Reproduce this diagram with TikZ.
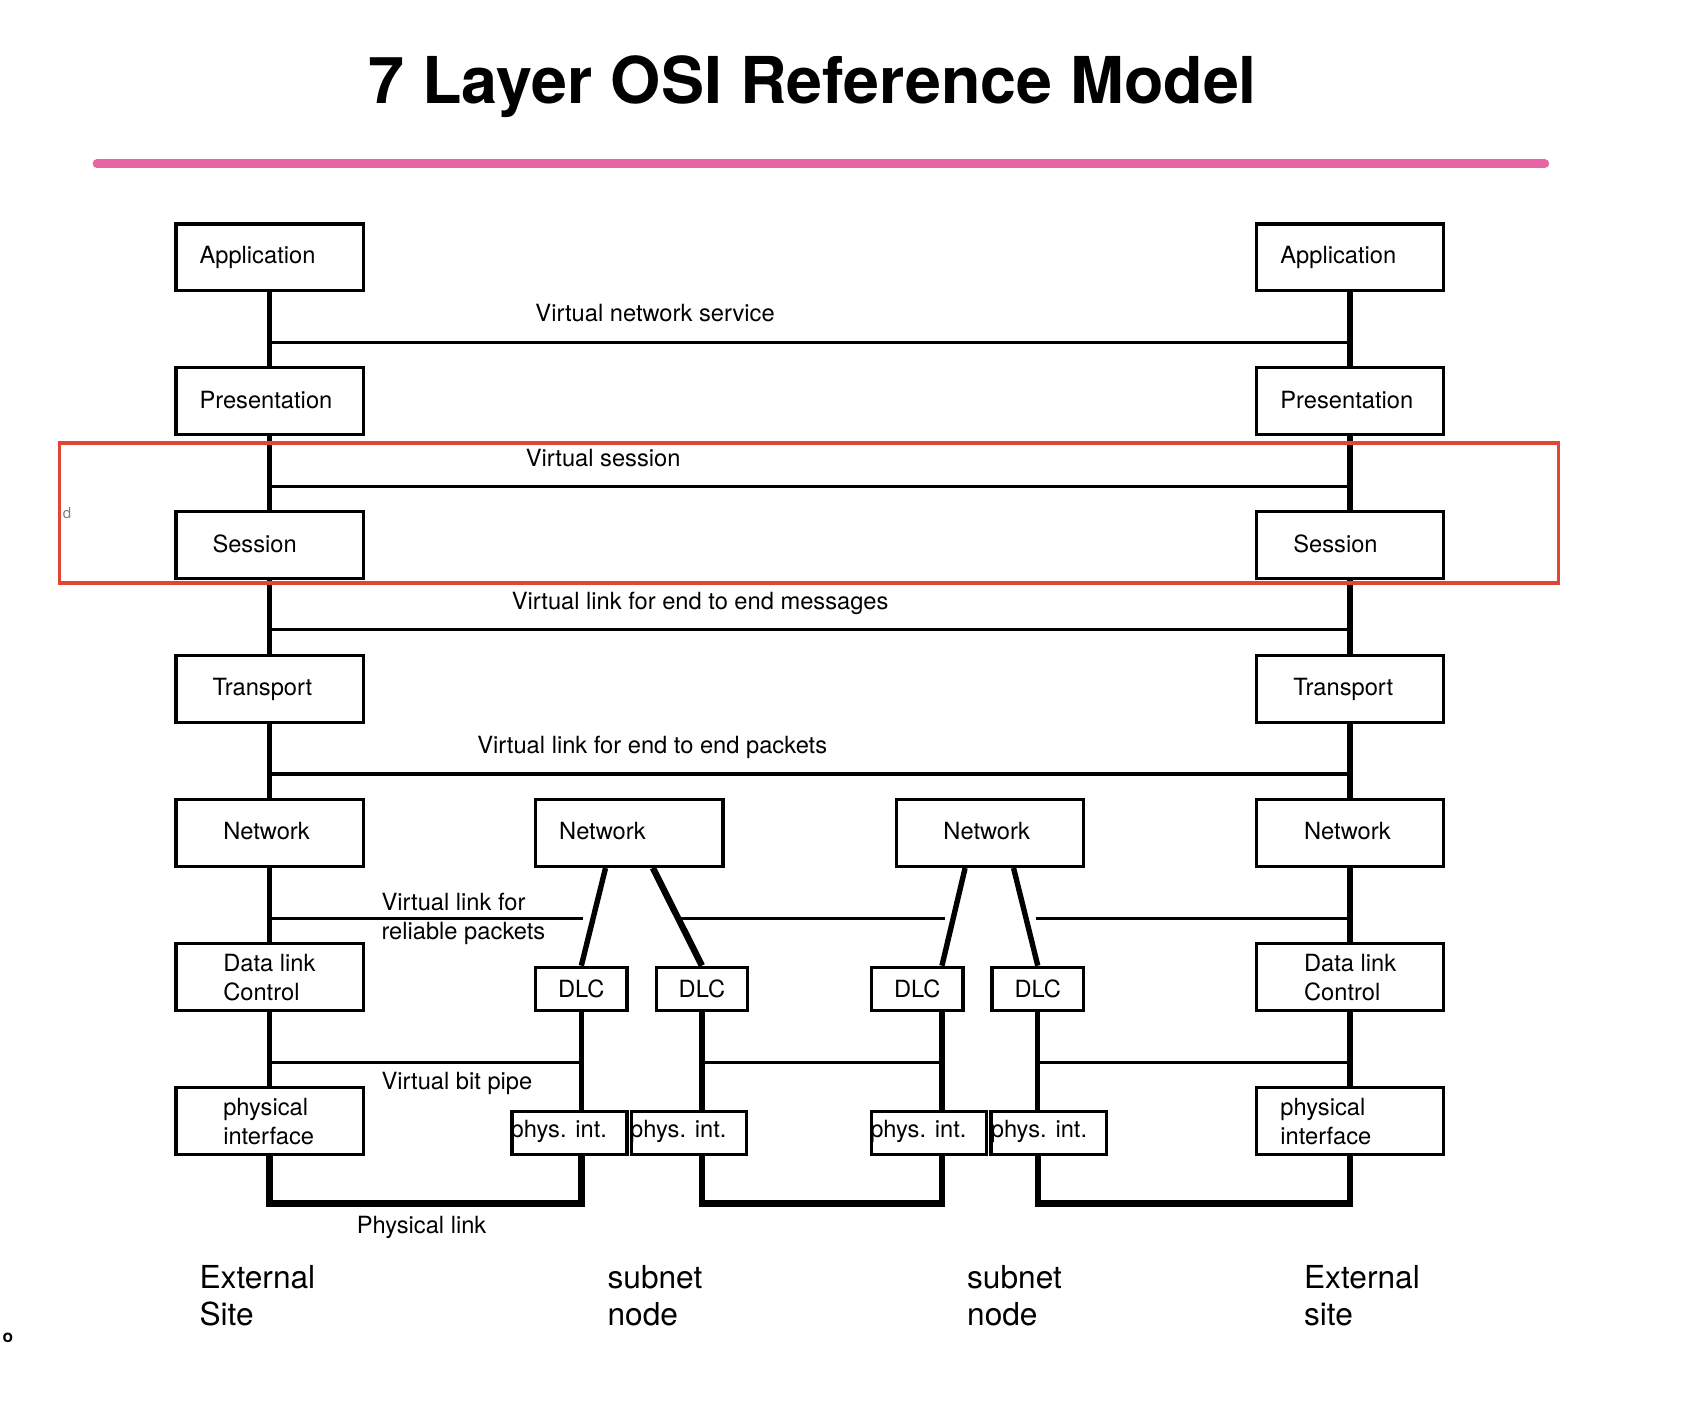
\documentclass[tikz,border=0pt]{standalone}
\usepackage{fontspec}
\setmainfont{TeX Gyre Heros}
\usetikzlibrary{calc}
\definecolor{rulepink}{RGB}{232,100,165}
\definecolor{markred}{RGB}{224,70,50}
\tikzset{
  layer/.style={draw, line width=1.5pt, minimum width=87pt, minimum height=31pt, inner sep=0pt},
  dlcbox/.style={draw, line width=1.5pt, minimum width=42.5pt, minimum height=20pt, inner sep=0pt, font=\fontsize{11}{13.5}\selectfont},
  pintbox/.style={dlcbox, minimum width=53.5pt},
  spine/.style={line width=2.5pt},
  vlink/.style={line width=1.5pt},
  plink/.style={line width=3pt},
  lbl/.style={anchor=base west, inner sep=0pt, font=\fontsize{11}{13.5}\selectfont, align=left},
  sitelbl/.style={anchor=base west, inner sep=0pt, font=\fontsize{14.7}{17}\selectfont, align=left},
}
\begin{document}
\begin{tikzpicture}[x=0.5pt,y=0.5pt,yscale=-1,xscale=1]
\useasboundingbox (0,0) rectangle (1568,1308);

% Title
\node [anchor=base, inner sep=0pt, font=\bfseries\fontsize{30}{36}\selectfont] (title) at (755,96) {7 Layer OSI Reference Model};
\draw [rulepink, line width=4pt, line cap=round] (90,152) -- (1435,152);

% Left stack
\node [layer] (lapp) at (250.5,239) {};
\node [layer] (lpre) at (250.5,372.7) {};
\node [layer] (lses) at (250.5,506.4) {};
\node [layer] (ltra) at (250.5,640.1) {};
\node [layer] (lnet) at (250.5,773.8) {};
\node [layer] (ldlc) at (250.5,907.5) {};
\node [layer] (lphy) at (250.5,1041.2) {};
% Right stack
\node [layer] (rapp) at (1254,239) {};
\node [layer] (rpre) at (1254,372.7) {};
\node [layer] (rses) at (1254,506.4) {};
\node [layer] (rtra) at (1254,640.1) {};
\node [layer] (rnet) at (1254,773.8) {};
\node [layer] (rdlc) at (1254,907.5) {};
\node [layer] (rphy) at (1254,1041.2) {};
% Subnet nodes
\node [layer] (snet1) at (584.5,773.8) {};
\node [layer] (snet2) at (919.5,773.8) {};
\node [dlcbox] (dlc1) at (540,918.5) {DLC};
\node [dlcbox] (dlc2) at (652,918.5) {DLC};
\node [dlcbox] (dlc3) at (852,918.5) {DLC};
\node [dlcbox] (dlc4) at (964,918.5) {DLC};
\node [pintbox] (pint1) at (529,1052.5) {};
\node [pintbox] (pint2) at (640,1052.5) {};
\node [pintbox] (pint3) at (863,1052.5) {};
\node [pintbox] (pint4) at (974,1052.5) {};

% Levels of the virtual links
\coordinate (vns) at (0,318);
\coordinate (vses) at (0,452);
\coordinate (vmsg) at (0,585);
\coordinate (vpkt) at (0,719);
\coordinate (vrel) at (0,853);
\coordinate (vbit) at (0,987);
\coordinate (phl) at (0,1118);
\coordinate (dc3) at (875,0);
\coordinate (rel1) at (542,853);
\coordinate (rel2) at (632,853);
\coordinate (rel3) at (878,853);
\coordinate (rel4) at (962,853);

% Spines
\draw [spine] (lapp) -- (lpre);
\draw [spine] (lpre) -- (lses);
\draw [spine] (lses) -- (ltra);
\draw [spine] (ltra) -- (lnet);
\draw [spine] (lnet) -- (ldlc);
\draw [spine] (ldlc) -- (lphy);
\draw [spine] (rapp) -- (rpre);
\draw [spine] (rpre) -- (rses);
\draw [spine] (rses) -- (rtra);
\draw [spine] (rtra) -- (rnet);
\draw [spine] (rnet) -- (rdlc);
\draw [spine] (rdlc) -- (rphy);
\draw [spine] (dlc1) -- (dlc1 |- pint1.north);
\draw [spine] (dlc2) -- (dlc2 |- pint2.north);
\draw [spine] (dc3 |- dlc3.south) -- (dc3 |- pint3.north);
\draw [spine] (dlc4) -- (dlc4 |- pint4.north);
% Network to DLC
\draw [line width=2.5pt] ($(snet1.south)+(-22,0)$) -- (dlc1.north);
\draw [line width=3pt] ($(snet1.south)+(22,0)$) -- (dlc2.north);
\draw [line width=2.5pt] ($(snet2.south)+(-23,0)$) -- (dc3 |- dlc3.north);
\draw [line width=2.5pt] ($(snet2.south)+(22,0)$) -- (dlc4.north);

% Virtual links
\draw [vlink] (lapp |- vns) -- (rapp |- vns);
\draw [vlink] (lpre |- vses) -- (rpre |- vses);
\draw [vlink] (lses |- vmsg) -- (rses |- vmsg);
\draw [vlink] (ltra |- vpkt) -- (rtra |- vpkt);
\draw [vlink] (lnet |- vrel) -- (rel1);
\draw [vlink] (rel2) -- (rel3);
\draw [vlink] (rel4) -- (rnet |- vrel);
\draw [vlink] (ldlc |- vbit) -- (dlc1 |- vbit);
\draw [vlink] (dlc2 |- vbit) -- (dc3 |- vbit);
\draw [vlink] (dlc4 |- vbit) -- (rdlc |- vbit);

% Physical links
\draw [plink] (lphy.south) |- (phl -| dlc1) -- (dlc1 |- pint1.south);
\draw [plink] (dlc2 |- pint2.south) |- (phl -| dc3) -- (dc3 |- pint3.south);
\draw [plink] (dlc4 |- pint4.south) |- (phl -| rphy) -- (rphy.south);

% Marked session band
\draw [markred, line width=1.5pt] (55.5,411.5) rectangle (1447.5,541.5);

% Text Node
\node [lbl] (tlapp) at (185,245) {Application};
\node [lbl] (tlpre) at (185,379) {Presentation};
\node [lbl] (tlses) at (197,513) {Session};
\node [lbl] (tltra) at (197,646) {Transport};
\node [lbl] (tlnet) at (207,780) {Network};
\node [lbl] (tldlc) at (207,929) {Data link\\Control};
\node [lbl] (tlphy) at (207,1063) {physical\\interface};
% Text Node
\node [lbl] (trapp) at (1189,245) {Application};
\node [lbl] (trpre) at (1189,379) {Presentation};
\node [lbl] (trses) at (1201,513) {Session};
\node [lbl] (trtra) at (1201,646) {Transport};
\node [lbl] (trnet) at (1211,780) {Network};
\node [lbl] (trdlc) at (1211,929) {Data link\\Control};
\node [lbl] (trphy) at (1189,1063) {physical\\interface};
% Text Node
\node [lbl] (tsnet1) at (519,780) {Network};
\node [lbl] (tsnet2) at (876,780) {Network};
\node [lbl] (tpint1) at (474,1057) {phys. int.};
\node [lbl] (tpint2) at (585,1057) {phys. int.};
\node [lbl] (tpint3) at (808,1057) {phys. int.};
\node [lbl] (tpint4) at (920,1057) {phys. int.};
% Text Node
\node [lbl] (tvns) at (497,299) {Virtual network service};
\node [lbl] (tvses) at (488,433) {Virtual session};
\node [lbl] (tvmsg) at (475,566) {Virtual link for end to end messages};
\node [lbl] (tvpkt) at (443,700) {Virtual link for end to end packets};
\node [lbl] (tvrel) at (354,873) {Virtual link for\\reliable packets};
\node [lbl] (tvbit) at (354,1012) {Virtual bit pipe};
\node [lbl] (tphl) at (331,1146) {Physical link};
% Text Node
\node [sitelbl] (tsite1) at (185,1231) {External\\Site};
\node [sitelbl] (tsub1) at (564,1231) {subnet\\node};
\node [sitelbl] (tsub2) at (898,1231) {subnet\\node};
\node [sitelbl] (tsite2) at (1211,1231) {External\\site};
% Text Node
\node [anchor=base west, inner sep=0pt, text=gray, font=\fontsize{7}{8}\selectfont] (strayd) at (58,482) {d};
\node [anchor=base west, inner sep=0pt, font=\bfseries\fontsize{8}{9}\selectfont] (strayo) at (2,1247) {o};

\end{tikzpicture}
\end{document}
